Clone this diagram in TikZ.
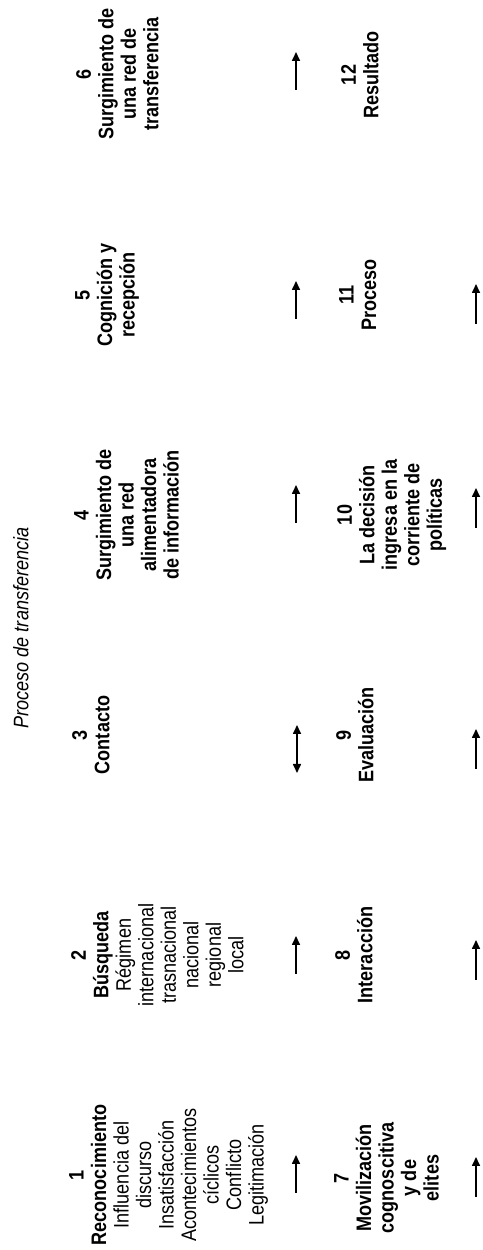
\documentclass[tikz,border=0pt]{standalone}
\usepackage{fontspec}
\setmainfont{Liberation Sans}[FakeStretch=0.86]
\usetikzlibrary{arrows.meta}

\begin{document}
\begin{tikzpicture}[
    x=1pt, y=1pt,
    % the whole figure is set sideways: every label is turned by 90 degrees
    etapa/.style   = {rotate=90, anchor=north, align=center, inner sep=0pt,
                      font=\fontsize{21}{22.5}\selectfont},
    negrita/.style = {etapa, font=\fontsize{21}{22.5}\selectfont\bfseries},
    flecha/.style  = {line width=1.6pt, -{Triangle[length=9pt, width=8pt]}},
    doble/.style   = {line width=1.6pt,
                      {Triangle[length=9pt, width=8pt]}-{Triangle[length=9pt, width=8pt]}},
  ]
  \useasboundingbox (0,0) rectangle (482,1250);

  %% ---------- title ----------
  \node[etapa, font=\fontsize{21}{22.5}\selectfont\itshape] (titulo) at (13,622)
    {Proceso de transferencia};

  %% ---------- first row: stages 1 to 6 ----------
  \node[etapa] (n1) at (69,75) {\textbf{1}\\ \textbf{Reconocimiento}\\ Influencia del\\
    discurso\\ Insatisfacción\\ Acontecimientos\\ cíclicos\\ Conflicto\\ Legitimación};
  \node[etapa] (n2) at (71,295) {\textbf{2}\\ \textbf{Búsqueda}\\ Régimen\\
    internacional\\ trasnacional\\ nacional\\ regional\\ local};
  \node[negrita] (n3) at (72,515) {3\\ Contacto};
  \node[negrita] (n4) at (74,735) {4\\ Surgimiento de\\ una red\\ alimentadora\\ de información};
  \node[negrita] (n5) at (75,955) {5\\ Cognición y\\ recepción};
  \node[negrita] (n6) at (76,1176) {6\\ Surgimiento de\\ una red de\\ transferencia};

  %% ---------- second row: stages 7 to 12 ----------
  \node[negrita] (n7) at (334,72) {7\\ Movilización\\ cognoscitiva\\ y de\\ elites};
  \node[negrita] (n8) at (335,295) {8\\ Interacción};
  \node[negrita] (n9) at (336,515) {9\\ Evaluación};
  \node[negrita] (n10) at (337,735) {10\\ La decisión\\ ingresa en la\\ corriente de\\ políticas};
  \node[negrita] (n11) at (339,955) {11\\ Proceso};
  \node[negrita] (n12) at (341,1175) {12\\ Resultado};

  %% ---------- arrows under each row ----------
  \foreach \i/\y in {1/76, 2/295, 4/746, 5/950, 6/1179} {
    \coordinate (inicioA\i) at (296,\y-19);
    \coordinate (finA\i) at (296,\y+19);
    \draw[flecha] (inicioA\i) -- (finA\i);
  }
  \coordinate (inicioA3) at (297,477);
  \coordinate (finA3) at (297,525);
  \draw[doble] (inicioA3) -- (finA3);

  \foreach \i/\y in {1/73, 2/290, 3/501, 4/742, 5/946} {
    \coordinate (inicioB\i) at (476,\y-20);
    \coordinate (finB\i) at (476,\y+20);
    \draw[flecha] (inicioB\i) -- (finB\i);
  }
\end{tikzpicture}
\end{document}
